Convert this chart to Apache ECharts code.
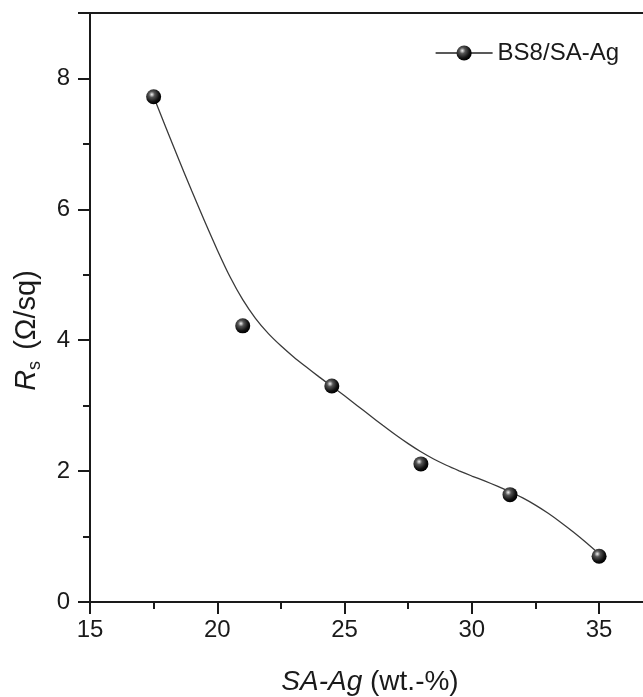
<!DOCTYPE html>
<html>
<head>
<meta charset="utf-8">
<script src="https://cdn.jsdelivr.net/npm/echarts@6/dist/echarts.min.js"></script>
<style>
	html, body { margin: 0; padding: 0; background: #fff; }
	#chart { width: 643px; height: 697px; }
</style>
</head>
<body>
<div id="chart"></div>
<script>
// measured points
var loading = [17.5, 21, 24.5, 28, 31.5, 35];
var sheetRes = [7.72, 4.22, 3.3, 2.11, 1.64, 0.7];

// smoothed guide curve
var curveX = [17.5, 18, 18.5, 19, 19.5, 20, 20.5, 21, 21.5, 22, 22.5, 23, 23.5, 24, 24.5, 25, 25.5, 26,
	26.5, 27, 27.5, 28, 28.5, 29, 29.5, 30, 30.5, 31, 31.5, 32, 32.5, 33, 33.5, 34, 34.5, 35];
var curveY = [7.72, 7.23, 6.75, 6.28, 5.82, 5.38, 4.97, 4.62, 4.335, 4.105, 3.915, 3.745, 3.59, 3.44, 3.295,
	3.15, 3.0, 2.85, 2.7, 2.555, 2.42, 2.295, 2.185, 2.09, 2.005, 1.925, 1.85, 1.77, 1.685, 1.59, 1.48,
	1.355, 1.215, 1.065, 0.905, 0.735];

var xTicks = [15, 20, 25, 30, 35];
var yTicks = [0, 2, 4, 6, 8];

var font = 'Liberation Sans, Arial, sans-serif';
var ink = '#1a1a1a';

var ball = {
	type: 'radial', x: 0.38, y: 0.35, r: 0.65,
	colorStops: [
		{offset: 0, color: '#f2f2f2'},
		{offset: 0.3, color: '#555'},
		{offset: 0.75, color: '#111'},
		{offset: 1, color: '#000'}
	]
};

var chart = echarts.init(document.getElementById('chart'));

chart.setOption({
	animation: false,
	grid: {left: 90, width: 560, top: 13, height: 589, outerBoundsMode: 'none', containLabel: false},
	legend: {
		right: 19, top: 36,
		itemWidth: 57, itemHeight: 19, itemGap: 10,
		textStyle: {fontFamily: font, fontSize: 24, color: ink},
		data: [{name: 'BS8/SA-Ag', lineStyle: {opacity: 1, width: 1.5, color: '#222'}}]
	},
	xAxis: [{
		type: 'value', min: 15, max: 37, interval: 5,
		name: '{i|SA-Ag} (wt.-%)',
		nameLocation: 'middle', nameGap: 66,
		nameTextStyle: {
			fontFamily: font, fontSize: 28, color: ink,
			rich: {i: {fontFamily: font, fontSize: 28, fontStyle: 'italic', color: ink}}
		},
		axisLine: {onZero: false, lineStyle: {color: ink, width: 2}},
		axisTick: {inside: false, length: 12, lineStyle: {color: ink, width: 2}},
		minorTick: {show: true, splitNumber: 2, length: 7, lineStyle: {color: ink, width: 2}},
		axisLabel: {fontFamily: font, fontSize: 24, color: ink, margin: 16,
			formatter: function(v){ return xTicks.indexOf(v) >= 0 ? String(v) : ''; }},
		splitLine: {show: false}
	}, {
		type: 'value', min: 15, max: 37, position: 'top',
		axisLine: {show: true, onZero: false, lineStyle: {color: ink, width: 2}},
		axisTick: {show: false}, axisLabel: {show: false}, splitLine: {show: false}
	}],
	yAxis: {
		type: 'value', min: 0, max: 9, interval: 2,
		name: '{i|R}{sub|s} (Ω/sq)',
		nameLocation: 'middle', nameGap: 46, nameRotate: 90,
		nameTextStyle: {
			fontFamily: font, fontSize: 29, color: ink,
			padding: [0, 46, 0, 0],
			rich: {
				i: {fontFamily: font, fontSize: 29, fontStyle: 'italic', color: ink},
				sub: {fontFamily: font, fontSize: 18, color: ink, padding: [16, 3, 0, 0]}
			}
		},
		axisLine: {onZero: false, lineStyle: {color: ink, width: 2}},
		axisTick: {inside: false, length: 12, lineStyle: {color: ink, width: 2}},
		minorTick: {show: true, splitNumber: 2, length: 7, lineStyle: {color: ink, width: 2}},
		axisLabel: {fontFamily: font, fontSize: 24, color: ink, margin: 20,
			formatter: function(v){ return yTicks.indexOf(v) >= 0 ? String(v) : ''; }},
		splitLine: {show: false}
	},
	series: [{
		name: 'curve',
		type: 'line',
		data: curveX.map(function(x, i){ return [x, curveY[i]]; }),
		smooth: 0.25,
		showSymbol: false,
		lineStyle: {color: '#3a3a3a', width: 1.3},
		z: 2
	}, {
		name: 'BS8/SA-Ag',
		type: 'line',
		data: loading.map(function(x, i){ return [x, sheetRes[i]]; }),
		symbol: 'circle',
		symbolSize: 15,
		itemStyle: {color: ball, borderWidth: 0},
		lineStyle: {opacity: 0, color: '#333'},
		z: 3
	}]
});
</script>
</body>
</html>
